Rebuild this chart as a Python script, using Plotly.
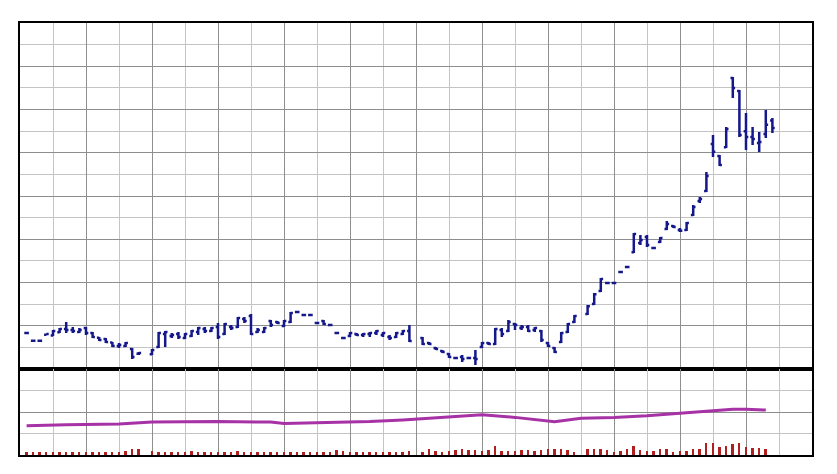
import plotly.graph_objects as go
from plotly.subplots import make_subplots

# ---- data (arbitrary price / volume units) ----
opens = [1.66, 1.31, 1.31, 1.58, 1.55, 1.70, 1.85, 1.80, 1.71, 1.90,
         1.66, 1.45, 1.39, 1.22, 1.06, 1.06, 0.92, 0.70, None, 0.68,
         1.02, 1.62, 1.53, 1.62, 1.43, 1.53, 1.71, 1.85, 1.76, 1.94,
         1.62, 1.94, 1.94, 2.31, 2.45, 1.71, 1.71, 2.22, 2.17, 1.99,
         2.17, 2.64, 2.50, 2.50, 2.13, 2.22, 2.03, 1.66, 1.43, 1.53,
         1.62, 1.57, 1.62, 1.66, 1.57, 1.48, 1.48, 1.62, 1.76, None,
         1.43, 1.20, 0.97, 0.83, 0.69, 0.51, 0.55, 0.51, 0.51, 1.02,
         1.20, 1.16, 1.80, 1.76, 2.08, 1.90, 1.94, 1.80, 1.76, 1.20,
         0.97, 1.25, 1.71, 2.17, None, 2.54, 3.01, 3.61, 3.98, 3.98,
         4.49, 4.72, 5.40, 5.83, 6.10, 5.59, 5.87, 6.47, 6.61, 6.43,
         6.43, 7.12, 7.77, 8.23, 10.40, 9.85, 10.26, 13.46, 12.85, 11.00,
         10.73, 10.45, 10.87, 11.49]
highs = [1.66, 1.31, 1.31, 1.64, 1.80, 1.90, 2.17, 1.94, 1.90, 1.94,
         1.71, 1.48, 1.43, 1.25, 1.20, 1.25, 0.97, 0.79, None, 0.92,
         1.71, 1.76, 1.66, 1.71, 1.66, 1.80, 1.94, 1.94, 1.94, 2.13,
         2.13, 2.03, 2.40, 2.40, 2.54, 1.90, 1.94, 2.27, 2.22, 2.27,
         2.64, 2.64, 2.50, 2.50, 2.13, 2.27, 2.03, 1.66, 1.43, 1.71,
         1.66, 1.66, 1.71, 1.80, 1.71, 1.57, 1.71, 1.80, 2.03, None,
         1.48, 1.25, 1.02, 0.88, 0.74, 0.55, 0.65, 0.55, 0.88, 1.25,
         1.25, 1.90, 1.90, 2.27, 2.13, 2.03, 2.03, 1.94, 1.80, 1.25,
         1.02, 1.71, 2.13, 2.50, None, 2.96, 3.51, 4.21, 3.98, 3.98,
         4.49, 4.72, 6.29, 6.20, 6.20, 5.64, 6.10, 6.84, 6.66, 6.52,
         6.80, 7.58, 7.95, 9.11, 10.82, 9.90, 11.19, 13.50, 12.90, 11.84,
         11.19, 10.96, 11.98, 11.61]
lows = [1.66, 1.31, 1.31, 1.58, 1.53, 1.66, 1.66, 1.66, 1.66, 1.57,
        1.43, 1.29, 1.20, 1.02, 0.97, 1.02, 0.46, 0.65, None, 0.65,
        0.97, 1.02, 1.43, 1.39, 1.39, 1.48, 1.57, 1.66, 1.71, 1.39,
        1.57, 1.80, 1.90, 2.13, 1.57, 1.66, 1.66, 1.94, 2.08, 1.94,
        2.13, 2.64, 2.50, 2.50, 2.13, 2.03, 2.03, 1.66, 1.43, 1.48,
        1.53, 1.48, 1.48, 1.57, 1.48, 1.34, 1.43, 1.57, 1.25, None,
        1.11, 1.11, 0.88, 0.74, 0.51, 0.46, 0.32, 0.46, 0.18, 0.97,
        1.11, 1.11, 1.48, 1.71, 1.80, 1.80, 1.71, 1.71, 1.25, 1.02,
        0.74, 1.20, 1.66, 2.13, None, 2.50, 2.96, 3.56, 3.98, 3.98,
        4.49, 4.72, 5.36, 5.73, 5.64, 5.55, 5.83, 6.43, 6.52, 6.34,
        6.38, 7.08, 7.68, 8.18, 9.80, 9.39, 10.22, 12.53, 10.73, 10.13,
        10.36, 10.03, 10.68, 10.91]
closes = [1.66, 1.31, 1.31, 1.62, 1.76, 1.85, 1.80, 1.76, 1.80, 1.66,
          1.48, 1.34, 1.25, 1.06, 1.11, 1.20, 0.55, 0.74, None, 0.88,
          1.66, 1.71, 1.57, 1.48, 1.62, 1.76, 1.90, 1.76, 1.90, 1.48,
          2.08, 1.90, 2.36, 2.22, 1.62, 1.80, 1.90, 2.03, 2.13, 2.22,
          2.59, 2.64, 2.50, 2.50, 2.13, 2.08, 2.03, 1.66, 1.43, 1.66,
          1.57, 1.62, 1.66, 1.76, 1.66, 1.43, 1.66, 1.76, 1.29, None,
          1.16, 1.16, 0.92, 0.79, 0.55, 0.51, 0.46, 0.51, 0.46, 1.20,
          1.16, 1.85, 1.62, 2.17, 2.03, 1.94, 1.76, 1.90, 1.34, 1.06,
          0.79, 1.66, 2.08, 2.45, None, 2.90, 3.46, 4.16, 3.98, 3.98,
          4.49, 4.72, 6.24, 5.97, 5.73, 5.59, 6.06, 6.70, 6.57, 6.39,
          6.75, 7.49, 7.86, 8.92, 10.05, 9.43, 11.10, 12.99, 10.82, 10.73,
          10.64, 10.50, 11.29, 11.15]
volumes = [1.2, 1.3, 1.2, 1.4, 1.3, 1.2, 1.3, 1.2, 1.2, 1.3,
           1.2, 1.3, 1.2, 1.4, 1.5, 1.7, 2.6, 2.6, None, 1.7,
           1.5, 1.4, 1.5, 1.6, 1.4, 1.7, 1.5, 1.6, 1.4, 1.5,
           1.4, 1.6, 1.7, 1.4, 1.5, 1.4, 1.6, 1.3, 1.4, 1.5,
           1.2, 1.3, 1.2, 1.3, 1.2, 1.4, 1.2, 2.2, 1.7, 1.4,
           1.3, 1.4, 1.2, 1.3, 1.2, 1.5, 1.6, 1.5, 1.9, None,
           1.5, 2.8, 1.8, 1.5, 1.8, 2.3, 2.8, 2.3, 2.3, 1.8,
           2.3, 4.3, 1.8, 2.0, 1.8, 2.3, 2.3, 1.8, 2.3, 2.8,
           2.8, 2.8, 2.3, 1.55, None, 2.6, 2.6, 2.6, 2.3, 1.55,
           2.0, 2.6, 4.3, 2.3, 1.8, 2.0, 2.8, 2.8, 1.55, 2.0,
           2.0, 2.6, 2.8, 5.7, 5.4, 3.6, 4.2, 5.0, 5.4, 3.9,
           3.1, 3.1, 2.8, None]
avg_days = [0, 6, 14, 19, 29, 37, 39, 45, 52, 57, 59, 64, 69, 74, 79, 80,
            84, 89, 94, 99, 104, 107, 109, 112]
avg_vals = [13.6, 14.1, 14.4, 15.3, 15.6, 15.3, 14.7, 15.0, 15.6, 16.3, 16.7,
            18.0, 18.7, 17.5, 15.8, 15.5, 17.1, 17.5, 18.3, 19.4, 20.5, 21.3,
            21.3, 20.9]

days = list(range(len(opens)))
px_d = [d for d, o in zip(days, opens) if o is not None]
px_o = [o for o in opens if o is not None]
px_h = [h for h in highs if h is not None]
px_l = [v for v in lows if v is not None]
px_c = [c for c in closes if c is not None]
vol_d = [d for d, v in zip(days, volumes) if v is not None]
vol_v = [v for v in volumes if v is not None]

NAVY = "#15188a"
DARK_GRID = "#8e8e8e"
LIGHT_GRID = "#c4c4c4"

fig = make_subplots(rows=2, cols=1, shared_xaxes=True, vertical_spacing=0,
                    row_heights=[346, 86])

fig.add_trace(go.Ohlc(x=px_d, open=px_o, high=px_h, low=px_l, close=px_c,
                      increasing=dict(line=dict(color=NAVY, width=2.5)),
                      decreasing=dict(line=dict(color=NAVY, width=2.5)),
                      tickwidth=0.35, showlegend=False, hoverinfo="skip"),
              row=1, col=1)
fig.add_trace(go.Bar(x=vol_d, y=vol_v, width=0.28, marker=dict(color="#b01e1e", line=dict(width=0)),
                     showlegend=False, hoverinfo="skip"), row=2, col=1)
fig.add_trace(go.Scatter(x=avg_days, y=avg_vals, mode="lines",
                         line=dict(color="#a632a6", width=3),
                         showlegend=False, hoverinfo="skip"), row=2, col=1)

axis_common = dict(showline=True, mirror=True, linecolor="black", linewidth=2,
                   showticklabels=False, ticks="", zeroline=False)
xgrid = dict(showgrid=True, gridcolor=DARK_GRID, gridwidth=1, tick0=9, dtick=10,
             minor=dict(showgrid=True, gridcolor=LIGHT_GRID, gridwidth=1, tick0=4, dtick=5))
for r in (1, 2):
    fig.update_xaxes(range=[-1, 119], rangeslider=dict(visible=False),
                     **axis_common, **xgrid, row=r, col=1)
fig.update_yaxes(range=[0, 16], tick0=0, dtick=2, showgrid=True, gridcolor=DARK_GRID,
                 minor=dict(showgrid=True, gridcolor=LIGHT_GRID, tick0=0, dtick=1),
                 **axis_common, row=1, col=1)
fig.update_yaxes(range=[0, 40], tick0=0, dtick=20, showgrid=True, gridcolor=DARK_GRID,
                 minor=dict(showgrid=True, gridcolor=LIGHT_GRID, tick0=0, dtick=10),
                 **axis_common, row=2, col=1)

# page body adds an 8px offset, so the figure is sized/margined to compensate
fig.update_layout(width=829, height=466, margin=dict(l=12, r=25, t=15, b=19),
                  paper_bgcolor="white", plot_bgcolor="white", bargap=0,
                  showlegend=False, hovermode=False)

fig.write_html("out.html", config={"displayModeBar": False})
